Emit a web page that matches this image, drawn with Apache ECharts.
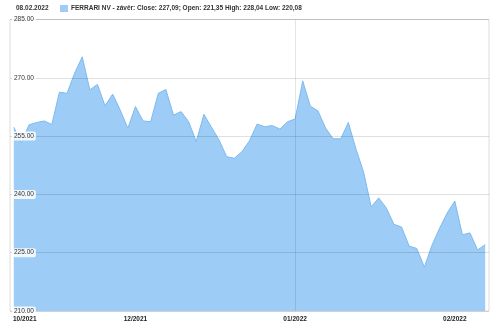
<!DOCTYPE html>
<html>
<head>
<meta charset="utf-8">
<script src="https://cdn.jsdelivr.net/npm/echarts@6/dist/echarts.min.js"></script>
<style>html,body{margin:0;padding:0;background:#fff;}#c{width:500px;height:326px;}</style>
</head>
<body>
<div id="c"></div>
<script>
const headerDate = '08.02.2022';
const seriesName = 'FERRARI NV - závěr';
const lastClose = '227,09';
const lastOpen = '221,35';
const lastHigh = '228,04';
const lastLow = '220,08';

// daily closing values (trading days)
const closeValues = [
  257.3, 253.3, 257.9, 258.5, 258.9, 258.0, 266.3, 266.0, 271.2, 275.4,
  266.9, 268.3, 262.8, 265.8, 261.7, 257.0, 262.6, 258.9, 258.7, 266.0,
  267.0, 260.4, 261.3, 258.7, 253.6, 260.6, 257.3, 254.0, 249.7, 249.3,
  251.0, 253.8, 258.1, 257.4, 257.7, 256.8, 258.7, 259.4, 269.2, 262.7,
  261.5, 257.1, 254.3, 254.3, 258.5, 251.7, 245.8, 236.8, 239.1, 236.5,
  232.3, 231.6, 226.7, 226.1, 221.3, 226.9, 231.3, 235.2, 238.3, 229.6,
  230.1, 225.7, 227.09
];

// x-axis tick labels and their positions (data index)
const xTickIdx = [-0.5, 16, 37, 58];
const xTickLabels = ['10/2021', '12/2021', '01/2022', '02/2022'];
const yearStartIdx = 37;

const yMin = 210, yMax = 285, yStep = 15;

const chart = echarts.init(document.getElementById('c'));
const font = 'Liberation Sans, Arial, sans-serif';
chart.setOption({
  animation: false,
  textStyle: { fontFamily: font },
  title: {
    text: headerDate, left: 16, top: 5, padding: 0,
    textStyle: { fontSize: 6.5, fontWeight: 'bold', color: '#333', fontFamily: font }
  },
  legend: {
    left: 60, top: 5, padding: 0, itemWidth: 8, itemHeight: 7, icon: 'rect', itemGap: 3,
    textStyle: { fontSize: 6.5, fontWeight: 'bold', color: '#333', fontFamily: font, padding: [0,0,0,-2] },
    formatter: name => name + ': Close: ' + lastClose + '; Open: ' + lastOpen + ' High: ' + lastHigh + ' Low: ' + lastLow
  },
  grid: { left: 10, right: 11, top: 19.5, bottom: 15, show: true, borderColor: '#dcdcdc', borderWidth: 1, backgroundColor: 'transparent' },
  xAxis: {
    type: 'value', min: -0.5, max: closeValues.length - 0.5,
    splitLine: { show: false }, axisLine: { show: false }, axisTick: { show: false },
    axisLabel: {
      customValues: xTickIdx,
      formatter: v => {
        const k = xTickIdx.indexOf(v);
        if (k === 0) return '{first|' + xTickLabels[k] + '}';
        return k >= 0 ? xTickLabels[k] : '';
      },
      rich: { first: { padding: [0, 0, 0, 3], fontSize: 6.5, fontWeight: 'bold', color: '#222' } },
      alignMinLabel: 'left',
      showMinLabel: true,
      fontSize: 6.5, fontWeight: 'bold', color: '#222', margin: 5
    }
  },
  yAxis: {
    type: 'value', min: yMin, max: yMax, interval: yStep, z: 5,
    axisLine: { show: false }, axisTick: { show: false },
    splitLine: { lineStyle: { color: 'rgba(0,0,0,0.12)', width: 1 } },
    axisLabel: {
      inside: true, margin: 2,
      formatter: v => v.toFixed(2),
      fontSize: 6.5, color: '#333',
      backgroundColor: 'rgba(255,255,255,0.85)', padding: [1, 2], borderRadius: 2
    }
  },
  series: [{
    type: 'line', name: seriesName,
    data: closeValues.map((v, i) => [i, v]),
    symbol: 'none',
    lineStyle: { color: '#7dbaee', width: 1 },
    itemStyle: { color: '#9dcdf6' },
    areaStyle: { color: '#9dcdf6', opacity: 1 },
    markLine: {
      silent: true, symbol: 'none', label: { show: false },
      lineStyle: { color: 'rgba(0,0,0,0.1)', type: 'solid', width: 1 },
      data: [{ xAxis: yearStartIdx }]
    }
  }]
});
</script>
</body>
</html>
